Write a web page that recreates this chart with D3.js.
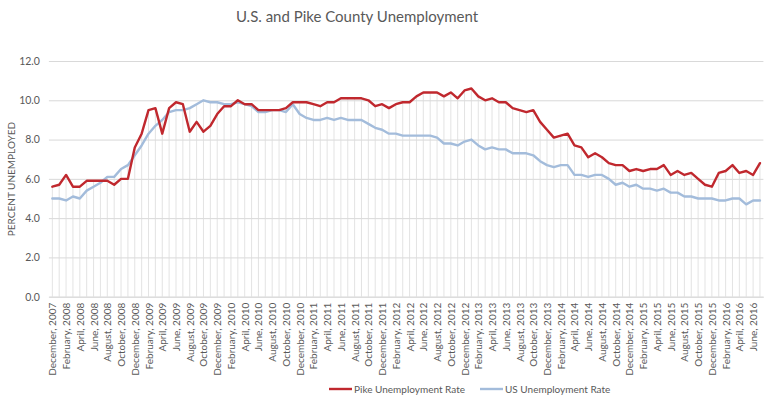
<!DOCTYPE html>
<html>
<head>
<meta charset="utf-8">
<script src="https://cdn.jsdelivr.net/npm/d3@7"></script>
<style>
  html, body { margin: 0; padding: 0; background: #ffffff; }
  svg { display: block; }
  text { font-family: Lato, "Open Sans", sans-serif; fill: #595959; }
</style>
</head>
<body>
<div id="chart"></div>
<script>
// categories: December 2007 .. July 2016 (monthly)
const categories = [
 "December, 2007",
 "January, 2008","February, 2008","March, 2008","April, 2008","May, 2008","June, 2008","July, 2008","August, 2008","September, 2008","October, 2008","November, 2008","December, 2008",
 "January, 2009","February, 2009","March, 2009","April, 2009","May, 2009","June, 2009","July, 2009","August, 2009","September, 2009","October, 2009","November, 2009","December, 2009",
 "January, 2010","February, 2010","March, 2010","April, 2010","May, 2010","June, 2010","July, 2010","August, 2010","September, 2010","October, 2010","November, 2010","December, 2010",
 "January, 2011","February, 2011","March, 2011","April, 2011","May, 2011","June, 2011","July, 2011","August, 2011","September, 2011","October, 2011","November, 2011","December, 2011",
 "January, 2012","February, 2012","March, 2012","April, 2012","May, 2012","June, 2012","July, 2012","August, 2012","September, 2012","October, 2012","November, 2012","December, 2012",
 "January, 2013","February, 2013","March, 2013","April, 2013","May, 2013","June, 2013","July, 2013","August, 2013","September, 2013","October, 2013","November, 2013","December, 2013",
 "January, 2014","February, 2014","March, 2014","April, 2014","May, 2014","June, 2014","July, 2014","August, 2014","September, 2014","October, 2014","November, 2014","December, 2014",
 "January, 2015","February, 2015","March, 2015","April, 2015","May, 2015","June, 2015","July, 2015","August, 2015","September, 2015","October, 2015","November, 2015","December, 2015",
 "January, 2016","February, 2016","March, 2016","April, 2016","May, 2016","June, 2016","July, 2016"
];

const pikeRate = [
 5.6,
 5.7,6.2,5.6,5.6,5.9,5.9,5.9,5.9,5.7,6.0,6.0,7.6,
 8.3,9.5,9.6,8.3,9.6,9.9,9.8,8.4,8.9,8.4,8.7,9.3,
 9.7,9.7,10.0,9.8,9.8,9.5,9.5,9.5,9.5,9.6,9.9,9.9,
 9.9,9.8,9.7,9.9,9.9,10.1,10.1,10.1,10.1,10.0,9.7,9.8,
 9.6,9.8,9.9,9.9,10.2,10.4,10.4,10.4,10.2,10.4,10.1,10.5,
 10.6,10.2,10.0,10.1,9.9,9.9,9.6,9.5,9.4,9.5,8.9,8.5,
 8.1,8.2,8.3,7.7,7.6,7.1,7.3,7.1,6.8,6.7,6.7,6.4,
 6.5,6.4,6.5,6.5,6.7,6.2,6.4,6.2,6.3,6.0,5.7,5.6,
 6.3,6.4,6.7,6.3,6.4,6.2,6.8
];

const usRate = [
 5.0,
 5.0,4.9,5.1,5.0,5.4,5.6,5.8,6.1,6.1,6.5,6.7,7.2,
 7.7,8.3,8.7,9.0,9.4,9.5,9.5,9.6,9.8,10.0,9.9,9.9,
 9.8,9.8,9.9,9.8,9.7,9.4,9.4,9.5,9.5,9.4,9.8,9.3,
 9.1,9.0,9.0,9.1,9.0,9.1,9.0,9.0,9.0,8.8,8.6,8.5,
 8.3,8.3,8.2,8.2,8.2,8.2,8.2,8.1,7.8,7.8,7.7,7.9,
 8.0,7.7,7.5,7.6,7.5,7.5,7.3,7.3,7.3,7.2,6.9,6.7,
 6.6,6.7,6.7,6.2,6.2,6.1,6.2,6.2,6.0,5.7,5.8,5.6,
 5.7,5.5,5.5,5.4,5.5,5.3,5.3,5.1,5.1,5.0,5.0,5.0,
 4.9,4.9,5.0,5.0,4.7,4.9,4.9
];

const yTicks = [0, 2, 4, 6, 8, 10, 12];
const seriesNames = ["Pike Unemployment Rate", "US Unemployment Rate"];
const seriesColors = ["#c0282e", "#a3bcdb"];
const titleText = "U.S. and Pike County Unemployment";
const yAxisTitle = "PERCENT UNEMPLOYED";

const W = 768, H = 399;
const svg = d3.select("#chart").append("svg").attr("width", W).attr("height", H);

const x = d3.scalePoint()
  .domain(categories)
  .range([48.9, 763.4])
  .padding(0.5);
const y = d3.scaleLinear().domain([0, 12]).range([296.7, 61]);

// title
svg.append("text")
  .attr("x", 357).attr("y", 22)
  .attr("text-anchor", "middle")
  .style("font-size", "15px")
  .text(titleText);

// y axis title
svg.append("text")
  .attr("transform", "translate(15,179) rotate(-90)")
  .attr("text-anchor", "middle")
  .style("font-size", "10px")
  .text(yAxisTitle);

// horizontal gridlines + tick labels
const yAxis = d3.axisLeft(y).tickValues(yTicks).tickFormat(d3.format(".1f"))
  .tickSize(-(763.4 - 48.9)).tickPadding(9);
const gy = svg.append("g").attr("transform", "translate(48.9,0)").call(yAxis);
gy.select(".domain").remove();
gy.selectAll(".tick line").attr("stroke", "#d9d9d9").attr("stroke-width", 1);
gy.selectAll(".tick text").style("font-size", "10.5px").style("font-family", "Lato, sans-serif").attr("fill", "#595959");

// drop lines
svg.append("g").selectAll("line")
  .data(categories)
  .join("line")
  .attr("x1", d => x(d)).attr("x2", d => x(d))
  .attr("y1", (d, i) => y(Math.max(pikeRate[i], usRate[i])))
  .attr("y2", y(0))
  .attr("stroke", "#dcdcdc")
  .attr("stroke-width", 0.8);

// x axis labels (every other month)
const xAxis = d3.axisBottom(x)
  .tickValues(categories.filter((d, i) => i % 2 === 0))
  .tickSize(0).tickPadding(0);
const gx = svg.append("g").attr("transform", `translate(0,${y(0)})`).call(xAxis);
gx.select(".domain").attr("stroke", "#d9d9d9");
gx.selectAll(".tick text")
  .attr("transform", "rotate(-90)")
  .attr("x", -6).attr("y", 0).attr("dy", "0.35em")
  .attr("text-anchor", "end")
  .style("font-size", "10px")
  .style("font-family", "Lato, sans-serif")
  .attr("fill", "#595959");

// lines
const line = d3.line().x((d, i) => x(categories[i])).y(d => y(d));
[usRate, pikeRate].forEach((s, k) => {
  const ci = k === 0 ? 1 : 0;
  svg.append("path")
    .datum(s)
    .attr("d", line)
    .attr("fill", "none")
    .attr("stroke", seriesColors[ci])
    .attr("stroke-width", 2.4)
    .attr("stroke-linejoin", "round")
    .attr("stroke-linecap", "round");
});

// legend
const legendX = [329, 480];
const lg = svg.append("g");
seriesNames.forEach((n, i) => {
  lg.append("line")
    .attr("x1", legendX[i]).attr("x2", legendX[i] + 23)
    .attr("y1", 389).attr("y2", 389)
    .attr("stroke", seriesColors[i]).attr("stroke-width", 2.4);
  lg.append("text")
    .attr("x", legendX[i] + 25).attr("y", 389).attr("dy", "0.35em")
    .style("font-size", "10px")
    .text(n);
});
</script>
</body>
</html>
